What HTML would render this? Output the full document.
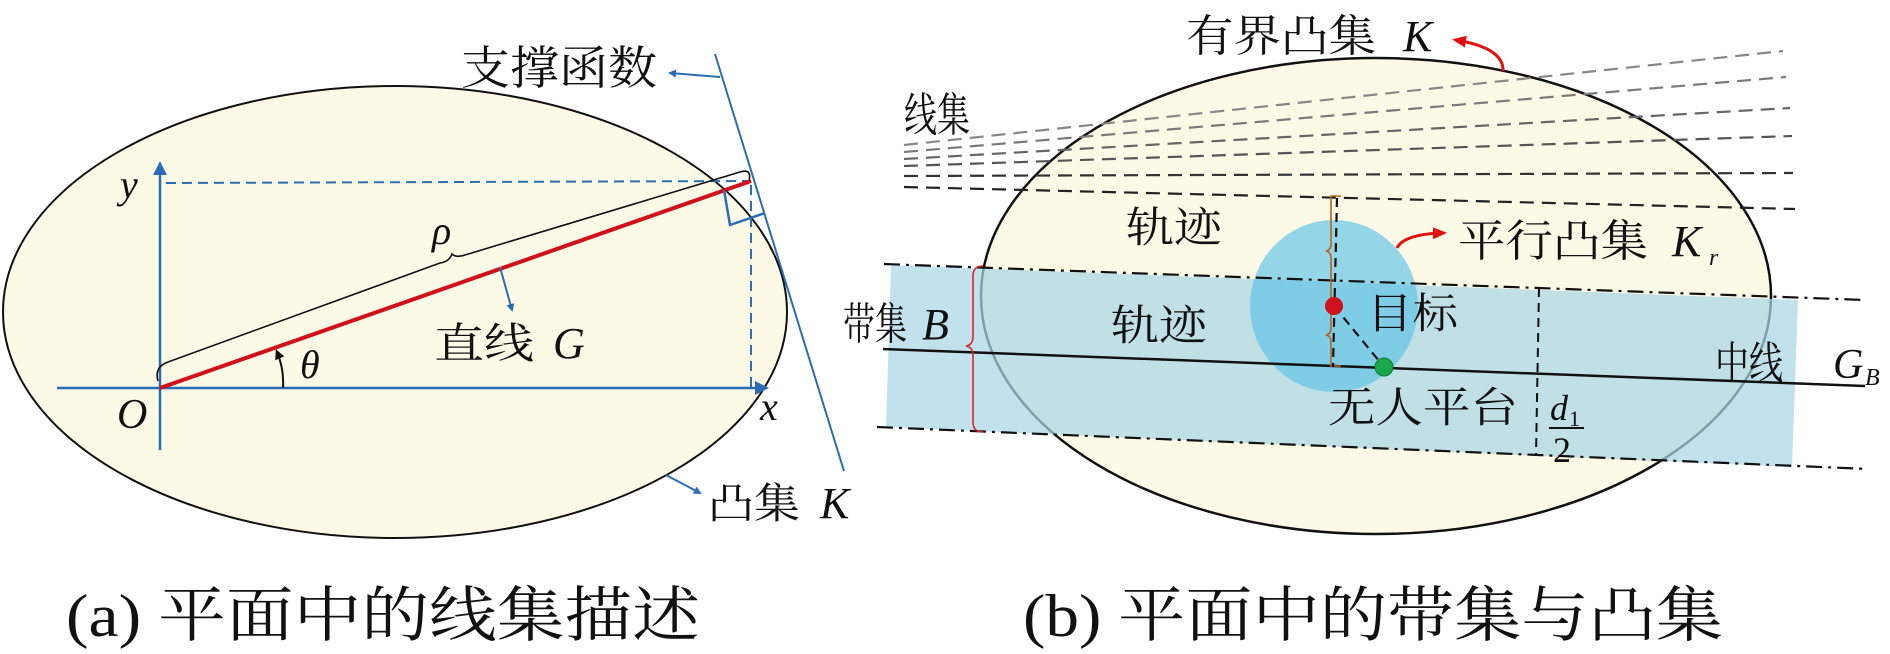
<!DOCTYPE html>
<html><head><meta charset="utf-8"><style>
html,body{margin:0;padding:0;background:#fff;}
svg{display:block;}
text{font-family:"Liberation Serif","Noto Serif CJK SC",serif;fill:#111;}
.it{font-style:italic;}
</style></head><body>
<svg width="1890" height="654" viewBox="0 0 1890 654" xmlns="http://www.w3.org/2000/svg">
<defs>
<marker id="ab" markerWidth="8" markerHeight="8" refX="6" refY="4" orient="auto" markerUnits="userSpaceOnUse"><path d="M0,0 L8,4 L0,8 z" fill="#2a6db5"/></marker>
<marker id="ab2" markerWidth="14" markerHeight="14" refX="10" refY="7" orient="auto" markerUnits="userSpaceOnUse"><path d="M0,0 L14,7 L0,14 z" fill="#2a6db5"/></marker>
<marker id="ar" markerWidth="14" markerHeight="12" refX="10" refY="6" orient="auto" markerUnits="userSpaceOnUse"><path d="M0,0 L14,6 L0,12 z" fill="#e01010"/></marker>
<marker id="ak" markerWidth="10" markerHeight="10" refX="7" refY="5" orient="auto" markerUnits="userSpaceOnUse"><path d="M0,0 L10,5 L0,10 z" fill="#111"/></marker>
</defs>

<!-- ===== Panel (a) ===== -->
<ellipse cx="395" cy="312" rx="392" ry="226" fill="#fdf9e7" stroke="#111" stroke-width="2"/>
<line x1="57" y1="388" x2="765" y2="388" stroke="#2a6db5" stroke-width="2.5" marker-end="url(#ab2)"/>
<line x1="160" y1="450" x2="160" y2="165" stroke="#2a6db5" stroke-width="2.5" marker-end="url(#ab2)"/>
<text x="120" y="198" class="it" font-size="40">y</text>
<text x="117" y="428" class="it" font-size="42">O</text>
<text x="760" y="420" class="it" font-size="40">x</text>
<line x1="166" y1="183" x2="751" y2="181" stroke="#2a6db5" stroke-width="2" stroke-dasharray="10,6"/>
<line x1="751" y1="185" x2="751" y2="388" stroke="#2a6db5" stroke-width="2" stroke-dasharray="10,6"/>
<path d="M158,381 Q154,367 168,362 L440,263 Q449,262 452,254 Q456,258 465,255 L740,172 Q752,168 749,181" fill="none" stroke="#111" stroke-width="1.6"/>
<text x="432" y="244" class="it" font-size="40">ρ</text>
<line x1="160" y1="388" x2="751" y2="181" stroke="#d0101a" stroke-width="4"/>
<line x1="715" y1="54" x2="844" y2="471" stroke="#2a6db5" stroke-width="2"/>
<path d="M724,190 L730,225 L765,213" fill="none" stroke="#2a6db5" stroke-width="2.5"/>
<line x1="720" y1="77" x2="670" y2="73" stroke="#2a6db5" stroke-width="2" marker-end="url(#ab)"/>
<text x="461" y="84" font-size="46" textLength="196" lengthAdjust="spacingAndGlyphs">支撑函数</text>
<line x1="500" y1="267" x2="512" y2="310" stroke="#2a6db5" stroke-width="2" marker-end="url(#ab)"/>
<text x="434" y="358" font-size="42" textLength="100" lengthAdjust="spacingAndGlyphs">直线</text>
<text x="553" y="358" class="it" font-size="44">G</text>
<path d="M283,388 Q284,368 277,352" fill="none" stroke="#111" stroke-width="2" marker-end="url(#ak)"/>
<text x="300" y="378" class="it" font-size="40">θ</text>
<line x1="666" y1="475" x2="700" y2="493" stroke="#2a6db5" stroke-width="2" marker-end="url(#ab)"/>
<text x="708" y="518" font-size="42" textLength="92" lengthAdjust="spacingAndGlyphs">凸集</text>
<text x="820" y="518" class="it" font-size="44">K</text>
<text x="66" y="636" font-size="60" textLength="634" lengthAdjust="spacingAndGlyphs">(a) 平面中的线集描述</text>

<!-- ===== Panel (b) ===== -->
<ellipse cx="1376" cy="296" rx="395" ry="238" fill="#fdf9e7" stroke="#111" stroke-width="2.5"/>
<g fill="none" stroke-width="2.2" stroke-dasharray="14,8">
<line x1="904" y1="145" x2="1783" y2="51" stroke="#888"/>
<line x1="904" y1="152" x2="1786" y2="77" stroke="#7a7a7a"/>
<line x1="904" y1="159" x2="1790" y2="108" stroke="#666"/>
<line x1="904" y1="166" x2="1792" y2="136" stroke="#555"/>
<line x1="904" y1="176" x2="1793" y2="173" stroke="#333"/>
<line x1="904" y1="187" x2="1795" y2="209" stroke="#222"/>
</g>
<text x="904" y="131" font-size="46" textLength="66" lengthAdjust="spacingAndGlyphs">线集</text>
<polygon points="891,265 1798,300 1792,467 886,427" fill="#a9d6e6" fill-opacity="0.72"/>
<ellipse cx="1334" cy="306" rx="84" ry="86" fill="#5cc2e6" fill-opacity="0.65"/>
<line x1="884" y1="264" x2="1865" y2="300" stroke="#111" stroke-width="2.2" stroke-dasharray="16,6,3,6"/>
<line x1="877" y1="427" x2="1868" y2="469" stroke="#111" stroke-width="2.2" stroke-dasharray="16,6,3,6"/>
<line x1="883" y1="349" x2="1865" y2="386" stroke="#111" stroke-width="2.5"/>
<path d="M983,266 Q973,266 973,276 L973,336 Q973,345 966,346 Q973,347 973,356 L973,422 Q973,432 983,432" fill="none" stroke="#d8262a" stroke-width="1.6"/>
<text x="843" y="339" font-size="44" textLength="64" lengthAdjust="spacingAndGlyphs">带集</text>
<text x="922" y="339" class="it" font-size="44">B</text>
<path d="M1341,196 L1331,196 L1331,244 Q1331,250 1326,251 Q1331,252 1331,258 L1331,328 Q1331,334 1326,335 Q1331,336 1331,342 L1331,366 L1341,366" fill="none" stroke="#b5651d" stroke-width="1.6"/>
<line x1="1337" y1="198" x2="1333" y2="367" stroke="#111" stroke-width="2.2" stroke-dasharray="9,6"/>
<line x1="1334" y1="306" x2="1384" y2="367" stroke="#111" stroke-width="2.2" stroke-dasharray="9,6"/>
<circle cx="1334" cy="306" r="9" fill="#d0101a"/>
<circle cx="1384" cy="367" r="9" fill="#1aa84a" stroke="#0d7a30" stroke-width="1"/>
<line x1="1539" y1="288" x2="1536" y2="455" stroke="#111" stroke-width="2" stroke-dasharray="9,6"/>
<text x="1550" y="420" class="it" font-size="36">d</text>
<text x="1569" y="426" font-size="22">1</text>
<line x1="1549" y1="428" x2="1584" y2="428" stroke="#111" stroke-width="2"/>
<text x="1553" y="462" font-size="36">2</text>
<text x="1126" y="242" font-size="42" textLength="96" lengthAdjust="spacingAndGlyphs">轨迹</text>
<text x="1111" y="340" font-size="42" textLength="96" lengthAdjust="spacingAndGlyphs">轨迹</text>
<text x="1367" y="328" font-size="42" textLength="91" lengthAdjust="spacingAndGlyphs">目标</text>
<text x="1328" y="422" font-size="42" textLength="190" lengthAdjust="spacingAndGlyphs">无人平台</text>
<text x="1715" y="378" font-size="44" textLength="68" lengthAdjust="spacingAndGlyphs">中线</text>
<text x="1833" y="378" class="it" font-size="42">G</text>
<text x="1865" y="385" class="it" font-size="24">B</text>
<path d="M1397,248 Q1404,234 1443,233" fill="none" stroke="#e01010" stroke-width="3" marker-end="url(#ar)"/>
<text x="1458" y="256" font-size="44" textLength="190" lengthAdjust="spacingAndGlyphs">平行凸集</text>
<text x="1672" y="256" class="it" font-size="44">K</text>
<text x="1709" y="265" class="it" font-size="24">r</text>
<path d="M1503,71 Q1504,48 1456,40" fill="none" stroke="#e01010" stroke-width="3" marker-end="url(#ar)"/>
<text x="1186" y="51" font-size="44" textLength="190" lengthAdjust="spacingAndGlyphs">有界凸集</text>
<text x="1403" y="51" class="it" font-size="44">K</text>
<text x="1023" y="636" font-size="60" textLength="700" lengthAdjust="spacingAndGlyphs">(b) 平面中的带集与凸集</text>
</svg>
</body></html>
